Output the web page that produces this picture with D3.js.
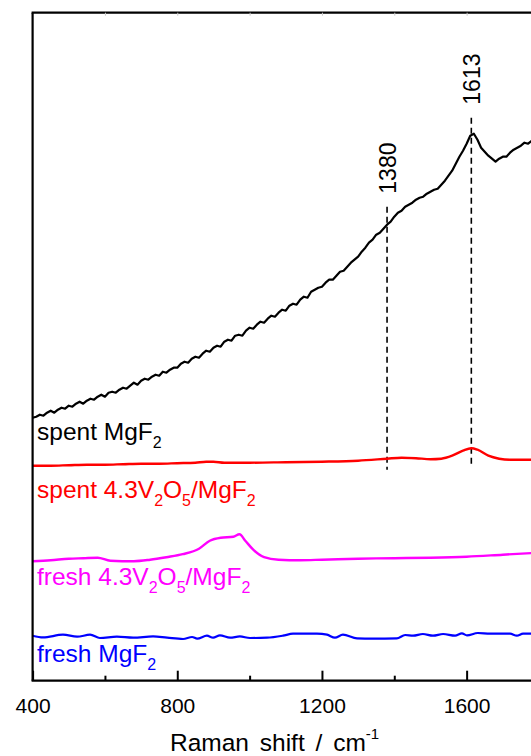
<!DOCTYPE html>
<html>
<head>
<meta charset="utf-8">
<script src="https://cdn.jsdelivr.net/npm/d3@7"></script>
<style>
  body { margin: 0; background: #fff; }
  svg { display: block; font-family: "Liberation Sans", Arial, Helvetica, sans-serif; }
</style>
</head>
<body>
<svg id="chart" width="531" height="756"></svg>
<script>
// Raman spectra, stacked (intensity in arbitrary units)

// spent MgF2 — sampled every 10 cm-1 from 400 to 1800
const spentMgF2Shift = d3.range(400, 1801, 10);
const spentMgF2 = [
  263, 264, 266, 265, 268, 270, 268, 271, 273, 272,
  275, 274, 277, 279, 277, 280, 282, 281, 284, 286,
  284, 288, 289, 288, 291, 293, 292, 295, 298, 296,
  300, 302, 301, 304, 306, 305, 309, 308, 311, 313,
  313, 317, 319, 318, 322, 324, 323, 327, 330, 329,
  333, 335, 334, 339, 341, 340, 345, 346, 345, 350,
  353, 352, 356, 359, 358, 362, 365, 364, 368, 371,
  370, 375, 377, 376, 381, 384, 383, 389, 391, 393,
  394, 398, 401, 401, 405, 409, 410, 414, 418, 421,
  424, 429, 433, 438, 441, 446, 448, 452, 456, 459,
  464, 468, 470, 474, 476, 478, 481, 483, 484, 487,
  489, 491, 492, 496, 500, 505, 510, 517, 524, 530,
  537, 545, 547, 541, 533, 529, 525, 522, 519, 522,
  524, 524, 528, 531, 533, 535, 538, 537, 540, 542,
  543
];

// spent 4.3V2O5/MgF2
const spentVShift = [400, 450, 500, 550, 600, 650, 700, 750, 800, 850, 880, 900, 930, 960, 1000,
  1100, 1200, 1300, 1380, 1420, 1460, 1500, 1530, 1560, 1590, 1613, 1630, 1660, 1690, 1720, 1760, 1800];
const spentV = [215, 215, 215.5, 216, 216, 216.5, 217, 217, 217.5, 218, 219, 219, 218, 218, 218,
  218.5, 219, 220, 222, 223, 222.5, 221.5, 222, 225, 230, 232.5, 231, 225, 222, 221, 221, 221];

// fresh 4.3V2O5/MgF2
const freshVShift = [400, 450, 500, 540, 580, 615, 680, 725, 770, 815, 860, 890, 920, 955, 972,
  988, 1010, 1040, 1080, 1140, 1200, 1300, 1400, 1500, 1600, 1700, 1800];
const freshV = [119.5, 120.5, 122, 122.5, 123, 120, 119.5, 121, 123.5, 126.5, 132, 140, 143, 144, 146.5,
  140, 131, 123.5, 121, 120.5, 121, 122, 122.5, 123, 124, 126, 128];

// fresh MgF2
const freshMgF2Shift = [400, 429, 484, 523, 559, 586, 633, 678, 733, 772, 816, 841, 855, 882, 899,
  918, 946, 973, 1001, 1048, 1092, 1120, 1186, 1214, 1236, 1258, 1297, 1341, 1407, 1430,
  1452, 1479, 1507, 1535, 1568, 1587, 1601, 1631, 1665, 1720, 1739, 1756, 1800];
const freshMgF2 = [45, 43.3, 46, 44, 46, 42.7, 44, 43, 44.3, 43, 41.7, 43.7, 42, 45, 43,
  45.3, 43, 44.3, 42.7, 43, 45, 47, 47, 46, 43, 46, 42.3, 42, 42.3, 45.7,
  45, 46.7, 45, 46.7, 45, 47.3, 45.3, 47.7, 47, 47, 45, 47, 47];

// marked bands: position, dashed line top and bottom (a.u.)
const bandPos = [1380, 1613];
const bandLabels = ["1380", "1613"];
const bandTop = [474, 563];
const bandBottom = [211, 214];

// x axis
const xDomain = [400, 2000];
const majorTicks = [400, 800, 1200, 1600];
const minorTicks = [600, 1000, 1400, 1800];
const xTitle = "Raman shift / cm";
const xTitleSup = "-1";

// series labels (parts: [text, isSubscript]); "at" is the label baseline in a.u.
const seriesLabels = [
  { parts: [["spent MgF", false], ["2", true]], color: "#000000", at: 240.7 },
  { parts: [["spent 4.3V", false], ["2", true], ["O", false], ["5", true], ["/MgF", false], ["2", true]], color: "#ff0000", at: 182.7 },
  { parts: [["fresh 4.3V", false], ["2", true], ["O", false], ["5", true], ["/MgF", false], ["2", true]], color: "#ff00ff", at: 95.7 },
  { parts: [["fresh MgF", false], ["2", true]], color: "#0000ff", at: 19 }
];

const svg = d3.select("#chart");
const margin = { left: 32.6, top: 12.7, bottom: 680.7 };
const plotW = 578.7;

const x = d3.scaleLinear().domain(xDomain).range([margin.left, margin.left + plotW]);
const y = d3.scaleLinear().domain([0, 668]).range([margin.bottom, margin.top]);

// spectra
const series = [
  { sx: freshMgF2Shift, sy: freshMgF2, color: "#0000ff", w: 2.2, curve: d3.curveMonotoneX },
  { sx: freshVShift, sy: freshV, color: "#ff00ff", w: 2.4, curve: d3.curveMonotoneX },
  { sx: spentVShift, sy: spentV, color: "#ff0000", w: 2.4, curve: d3.curveMonotoneX },
  { sx: spentMgF2Shift, sy: spentMgF2, color: "#000000", w: 2.2, curve: d3.curveLinear }
];

const line = d3.line().x(d => x(d[0])).y(d => y(d[1]));

// dashed band markers
bandPos.forEach((p, i) => {
  svg.append("line")
    .attr("x1", x(p)).attr("x2", x(p))
    .attr("y1", y(bandTop[i])).attr("y2", y(bandBottom[i]))
    .attr("stroke", "#000").attr("stroke-width", 1.6)
    .attr("stroke-dasharray", "6,4");
  svg.append("text")
    .attr("transform", `translate(${x(p) + 8.5},${y(bandTop[i]) - 13}) rotate(-90)`)
    .attr("font-size", 23)
    .attr("fill", "#000")
    .text(bandLabels[i]);
});

series.forEach(s => {
  svg.append("path")
    .datum(s.sx.map((v, i) => [v, s.sy[i]]))
    .attr("fill", "none")
    .attr("stroke", s.color)
    .attr("stroke-width", s.w)
    .attr("stroke-linejoin", "round")
    .attr("d", line.curve(s.curve));
});

// series labels
seriesLabels.forEach(l => {
  const t = svg.append("text")
    .attr("x", 37)
    .attr("y", y(l.at))
    .attr("fill", l.color)
    .attr("font-size", 24.5);
  let sub = false;
  l.parts.forEach(([txt, isSub]) => {
    const ts = t.append("tspan").text(txt);
    if (isSub && !sub) { ts.attr("dy", 8).attr("font-size", 16); sub = true; }
    else if (isSub && sub) { ts.attr("font-size", 16); }
    else if (!isSub && sub) { ts.attr("dy", -8); sub = false; }
  });
});

// frame
svg.append("line").attr("x1", margin.left).attr("x2", margin.left)
  .attr("y1", margin.top).attr("y2", margin.bottom)
  .attr("stroke", "#000").attr("stroke-width", 2.2);
svg.append("line").attr("x1", margin.left - 1).attr("x2", margin.left + plotW)
  .attr("y1", margin.top).attr("y2", margin.top)
  .attr("stroke", "#000").attr("stroke-width", 2.2);

// top axis: faint inward ticks
svg.append("g")
  .attr("transform", `translate(0,${margin.top})`)
  .call(d3.axisTop(x).tickValues(majorTicks.concat(minorTicks).filter(v => v > 400)).tickSize(-3).tickFormat(""))
  .call(g => g.select(".domain").remove())
  .call(g => g.selectAll(".tick line").attr("stroke", "#c8c8c8").attr("stroke-width", 1));

// bottom axis
svg.append("g").attr("transform", `translate(0,${margin.bottom})`)
  .call(d3.axisBottom(x).tickValues(majorTicks).tickSize(-10).tickPadding(17).tickFormat(d3.format("d")))
  .call(g => g.select(".domain").attr("stroke-width", 2.2).attr("d", `M${margin.left - 1},0H${margin.left + plotW}`))
  .call(g => g.selectAll(".tick line").attr("stroke-width", 2))
  .call(g => g.selectAll(".tick text").attr("font-size", 21).attr("fill", "#000")
    .attr("font-family", "'Liberation Sans', Arial, sans-serif"));
svg.append("g").attr("transform", `translate(0,${margin.bottom})`)
  .call(d3.axisBottom(x).tickValues(minorTicks).tickSize(-5).tickFormat(""))
  .call(g => g.select(".domain").remove())
  .call(g => g.selectAll(".tick line").attr("stroke-width", 2));

// axis title
const title = svg.append("text")
  .attr("x", 170).attr("y", 751)
  .attr("font-size", 24.5)
  .attr("word-spacing", 4)
  .attr("fill", "#000");
title.append("tspan").text(xTitle);
title.append("tspan").attr("dy", -12).attr("font-size", 15).attr("word-spacing", 0).text(xTitleSup);
</script>
</body>
</html>
